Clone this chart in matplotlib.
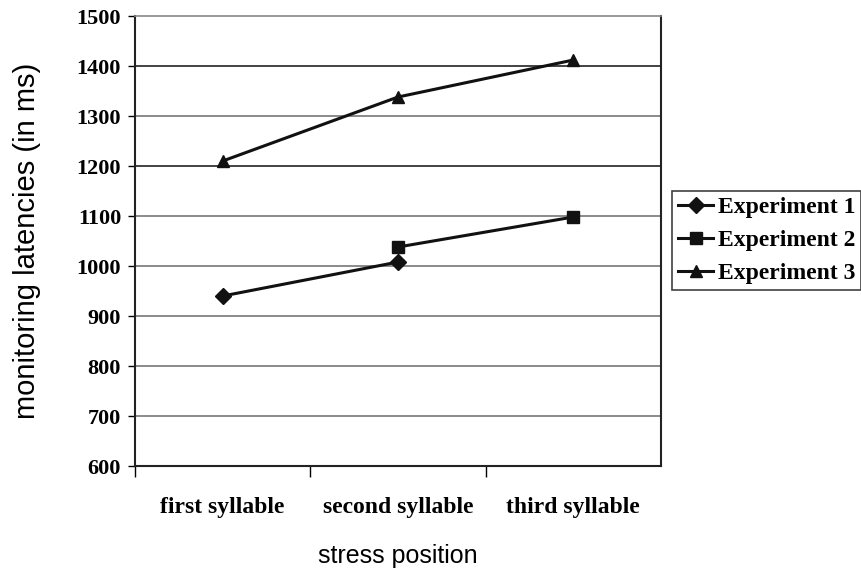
import numpy as np
import matplotlib
matplotlib.use('Agg')
from matplotlib import pyplot as plt

# data
categories = ['first syllable', 'second syllable', 'third syllable']
exp1 = [940, 1008, np.nan]
exp2 = [np.nan, 1038, 1098]
exp3 = [1210, 1338, 1412]
labels = ['Experiment 1', 'Experiment 2', 'Experiment 3']
yticks = [600, 700, 800, 900, 1000, 1100, 1200, 1300, 1400, 1500]

serif = 'Liberation Serif'
sans = 'Liberation Sans'

fig = plt.figure(figsize=(8.61, 5.72), dpi=100)
ax = fig.add_axes([0.1568, 0.1853, 0.6109, 0.7867])

x = np.arange(len(categories))
ax.plot(x, exp1, color='#111111', lw=2.2, marker='D', ms=8, label=labels[0])
ax.plot(x, exp2, color='#111111', lw=2.2, marker='s', ms=8, label=labels[1])
ax.plot(x, exp3, color='#111111', lw=2.2, marker='^', ms=9, label=labels[2])

ax.set_xlim(-0.5, 2.5)
ax.set_ylim(600, 1500)
ax.set_yticks(yticks)
ax.set_yticklabels([str(v) for v in yticks], fontfamily=serif,
                   fontweight='bold', fontsize=16)
ax.tick_params(axis='y', direction='out', length=5, width=1, pad=5)

# category labels in the middle, ticks on the boundaries
ax.set_xticks(x)
ax.set_xticklabels(categories, fontfamily=serif, fontweight='bold', fontsize=17)
ax.set_xticks([-0.5, 0.5, 1.5], minor=True)
ax.tick_params(axis='x', which='major', length=0, pad=22)
ax.tick_params(axis='x', which='minor', direction='out', length=8, width=1)

# horizontal gridlines
ax.set_axisbelow(True)
for v in yticks[1:-1]:
    c = '#222222' if v in (1200, 1400) else '#777777'
    ax.axhline(v, color=c, lw=1.2, zorder=0)

for s in ['left', 'bottom', 'right']:
    ax.spines[s].set_color('#222222')
    ax.spines[s].set_linewidth(1.5)
ax.spines['top'].set_color('#888888')
ax.spines['top'].set_linewidth(1.2)

ax.set_ylabel('monitoring latencies (in ms)', fontfamily=sans, fontsize=21)
ax.yaxis.set_label_coords(-0.178, 0.5)
ax.set_xlabel('stress position', fontfamily=sans, fontsize=18)
ax.xaxis.set_label_coords(0.5, -0.174)

leg = ax.legend(loc='center left', bbox_to_anchor=(0.7805, 0.580),
                bbox_transform=fig.transFigure, frameon=True, fancybox=False,
                prop={'family': serif, 'weight': 'bold', 'size': 17},
                handlelength=1.5, handletextpad=0.2, borderpad=0.25,
                labelspacing=0.48, borderaxespad=0)
leg.get_frame().set_edgecolor('#111111')
leg.get_frame().set_linewidth(1.2)

fig.savefig('out.png', dpi=100)
